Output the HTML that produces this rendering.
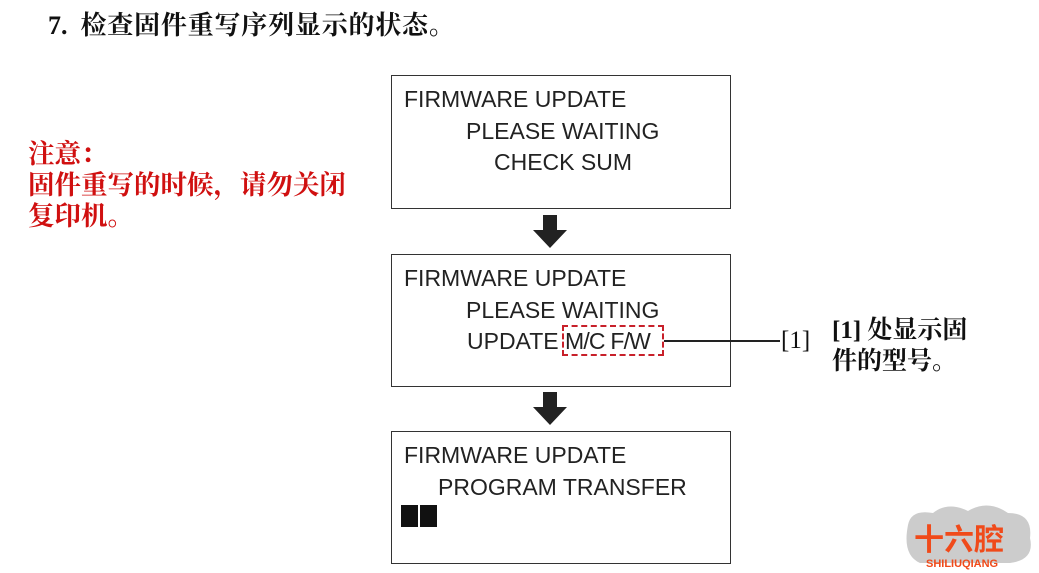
<!DOCTYPE html>
<html><head><meta charset="utf-8"><style>
body{margin:0;width:1039px;height:573px;background:#fff;position:relative;overflow:hidden}
.a{position:absolute;white-space:nowrap;line-height:1}
.s{font-family:"Liberation Sans",Arial,sans-serif;font-size:23px;color:#222}
.c{font-family:"Liberation Serif","Noto Serif CJK SC",serif;font-weight:bold}
.box{position:absolute;border:1.5px solid #333;box-sizing:border-box}
</style></head><body>
<div class="a c" style="left:48px;top:13px;font-size:26px;color:#111">7.&nbsp;&nbsp;<span style="letter-spacing:0.8px">检查固件重写序列显示的状态。</span></div>
<div class="a c" style="left:874px;top:-14px;font-size:16px;color:#333">说想进取 努了升格</div>
<div class="a c" style="left:28px;top:139px;font-size:26.5px;color:#d01010;line-height:31px;white-space:normal;width:340px">注意：<br>固件重写的时候，请勿关闭<br>复印机。</div>

<div class="box" style="left:391px;top:75px;width:340px;height:134px"></div>
<div class="box" style="left:391px;top:254px;width:340px;height:133px"></div>
<div class="box" style="left:391px;top:431px;width:340px;height:133px"></div>

<div class="a s" style="left:404px;top:88px">FIRMWARE UPDATE</div>
<div class="a s" style="left:466px;top:120px">PLEASE WAITING</div>
<div class="a s" style="left:494px;top:151px">CHECK SUM</div>

<div class="a s" style="left:404px;top:267px">FIRMWARE UPDATE</div>
<div class="a s" style="left:466px;top:299px">PLEASE WAITING</div>
<div class="a s" style="left:467px;top:330px">UPDATE <span style="letter-spacing:-0.8px">M/C F/W</span></div>
<div style="position:absolute;left:562px;top:325px;width:102px;height:31px;border:2px dashed #c8202a;box-sizing:border-box"></div>
<div style="position:absolute;left:664px;top:340px;width:116px;height:1.5px;background:#222"></div>
<div class="a c" style="left:781px;top:328px;font-size:25px;font-weight:normal;color:#111">[1]</div>
<div class="a c" style="left:832px;top:315px;font-size:25px;line-height:31px;color:#111">[1]&nbsp;处显示固<br>件的型号。</div>

<div class="a s" style="left:404px;top:444px">FIRMWARE UPDATE</div>
<div class="a s" style="left:438px;top:476px">PROGRAM TRANSFER</div>
<div style="position:absolute;left:401px;top:505px;width:17px;height:22px;background:#111"></div>
<div style="position:absolute;left:420px;top:505px;width:17px;height:22px;background:#111"></div>

<svg style="position:absolute;left:0;top:0" width="1039" height="573">
<polygon points="543,215 557,215 557,230 567,230 550,248 533,230 543,230" fill="#222"/>
<polygon points="543,392 557,392 557,407 567,407 550,425 533,407 543,407" fill="#222"/>
<path d="M908,525 q3,-16 25,-12 q15,-12 35,-2 q20,-12 40,2 q25,0 22,25 q5,22 -20,25 l-90,0 q-18,-8 -12,-38z" fill="#ccc"/>
<text x="914" y="550" font-family="Liberation Sans,Noto Sans CJK SC,sans-serif" font-size="30" font-weight="bold" fill="#f04a1a">十六腔</text>
<text x="926" y="567" font-family="Liberation Sans,sans-serif" font-size="11" font-weight="bold" fill="#f04a1a">SHILIUQIANG</text>
</svg>
</body></html>
